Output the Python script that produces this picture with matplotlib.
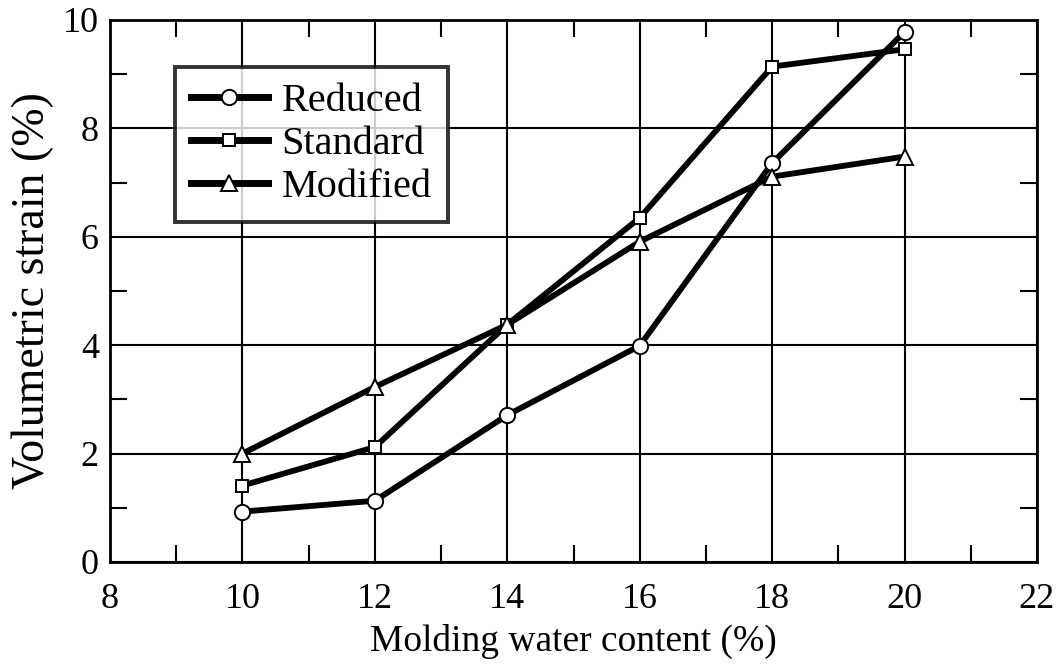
import matplotlib
matplotlib.use("Agg")
import matplotlib.pyplot as plt
from matplotlib.ticker import MultipleLocator

water = [10, 12, 14, 16, 18, 20]
reduced = [0.93, 1.13, 2.71, 3.99, 7.36, 9.78]
standard = [1.41, 2.12, 4.38, 6.35, 9.14, 9.46]
modified = [2.0, 3.23, 4.38, 5.91, 7.11, 7.48]
series = [("Reduced", reduced, "o", 11), ("Standard", standard, "s", 9), ("Modified", modified, "^", 12)]

plt.rcParams['font.family'] = ['Liberation Serif', 'DejaVu Serif']
fig = plt.figure(figsize=(10.6, 6.67), dpi=100)
ax = fig.add_axes([110/1060, 1-562/667, (1037-110)/1060, (562-20)/667])

for name, vals, m, ms in series:
    ax.plot(water, vals, color='black', lw=4.2, marker=m,
            ms=ms, mfc='white', mec='black', mew=1.4,
            label=name, zorder=3)

ax.set_xlim(8, 22)
ax.set_ylim(0, 10)
ax.xaxis.set_major_locator(MultipleLocator(2))
ax.xaxis.set_minor_locator(MultipleLocator(1))
ax.yaxis.set_major_locator(MultipleLocator(2))
ax.yaxis.set_minor_locator(MultipleLocator(1))
ax.grid(True, which='major', color='black', lw=1.5, zorder=1)
ax.tick_params(which='both', direction='in', top=True, right=True,
               labelsize=26, width=1.5)
ax.tick_params(axis='x', which='both', pad=15)
ax.tick_params(axis='y', which='both', pad=8)
ax.tick_params(which='major', length=0)
ax.tick_params(which='minor', length=12)
for s in ax.spines.values():
    s.set_linewidth(2)
ax.set_xlabel("Molding water content (%)", fontsize=27, labelpad=6)
ax.set_ylabel("Volumetric strain (%)", fontsize=33, labelpad=6)

leg = ax.legend(loc='upper left', bbox_to_anchor=((175-110)/927, 1-(67-20)/542),
                fontsize=29, frameon=True, fancybox=False, edgecolor='black',
                handlelength=1.9, handletextpad=0.35, borderpad=0.4,
                labelspacing=0.14, borderaxespad=0)
leg.get_frame().set_linewidth(2.8)
leg.set_zorder(5)
for h in leg.get_lines():
    h.set_linewidth(5)

fig.savefig("out.png", dpi=100)
